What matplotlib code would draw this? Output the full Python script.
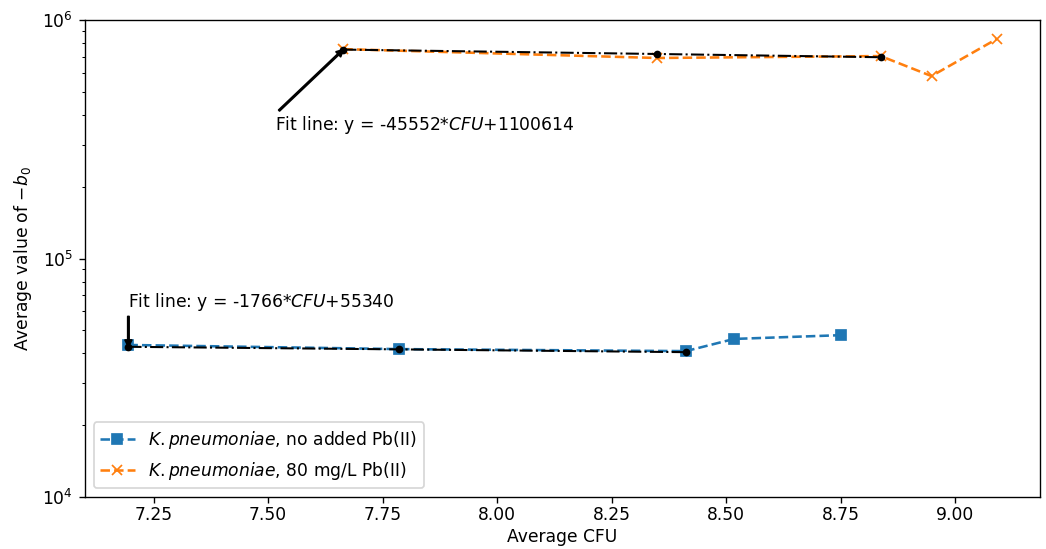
import matplotlib
matplotlib.use("Agg")
import matplotlib.pyplot as plt
import numpy as np

# Average CFU and -b0 for each culture
cfu_no_pb = [7.195, 7.786, 8.412, 8.517, 8.750]
b0_no_pb = [43400, 41700, 40900, 46000, 47700]

cfu_pb80 = [7.664, 8.349, 8.837, 8.948, 9.090]
b0_pb80 = [755000, 693000, 706000, 582000, 832000]

# Linear fits over the first three points of each series
fit_no_pb = (-1766, 55340)
fit_pb80 = (-45552, 1100614)
n_fit = 3

label_no_pb = r"$K. pneumoniae$, no added Pb(II)"
label_pb80 = r"$K. pneumoniae$, 80 mg/L Pb(II)"

DPI = 123
fig = plt.figure(figsize=(1046 / DPI, 549 / DPI), dpi=DPI)
ax = fig.add_axes([85 / 1046, 1 - 497 / 549, (1040 - 85) / 1046, (497 - 20) / 549])

ax.plot(cfu_no_pb, b0_no_pb, "s--", color="#1f77b4", label=label_no_pb)
ax.plot(cfu_pb80, b0_pb80, "x--", color="#ff7f0e", label=label_pb80)

for xs, (m, c) in ((cfu_no_pb, fit_no_pb), (cfu_pb80, fit_pb80)):
    xf = np.array(xs[:n_fit])
    ax.plot(xf, m * xf + c, "k-.", marker="o", markersize=3.5, linewidth=1.2)

ax.set_yscale("log")
ax.set_ylim(1e4, 1e6)
ax.tick_params(axis="x", pad=1.8)

arrow = dict(facecolor="black", edgecolor="black", width=0.8, headwidth=4, headlength=4)
x0 = cfu_no_pb[0]
ax.annotate(r"Fit line: y = -1766*$CFU$+55340",
            xy=(x0, fit_no_pb[0] * x0 + fit_no_pb[1]),
            xytext=(x0, 62600), arrowprops=arrow)
x1 = cfu_pb80[0]
ax.annotate(r"Fit line: y = -45552*$CFU$+1100614",
            xy=(x1, fit_pb80[0] * x1 + fit_pb80[1]),
            xytext=(7.516, 346000), arrowprops=arrow)

ax.set_xlabel("Average CFU", labelpad=2.5)
ax.set_ylabel(r"Average value of $-b_0$", labelpad=5)
ax.legend(loc="lower left")

fig.savefig("out.png", dpi=DPI)
